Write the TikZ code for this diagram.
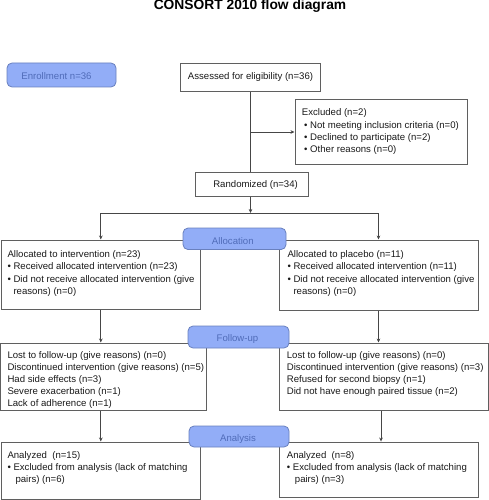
\documentclass[tikz,border=0pt]{standalone}
\usepackage{fontspec}
\setmainfont{Liberation Sans}
\usetikzlibrary{arrows.meta}
\definecolor{boxgray}{RGB}{95,95,95}
\definecolor{linegray}{RGB}{70,70,70}
\definecolor{lblfill}{RGB}{146,173,247}
\definecolor{lbldraw}{RGB}{105,128,190}
\definecolor{lbltext}{RGB}{80,108,185}
\definecolor{txtcol}{RGB}{25,25,25}
\newcommand\lns[1]{\begin{tabular}[t]{@{}l@{}}#1\end{tabular}}
\newcommand\hang{\phantom{• }}
\begin{document}
\begin{tikzpicture}[x=1pt,y=-1pt,
  box/.style={draw=boxgray, line width=1pt, rectangle, inner sep=0pt},
  lbl/.style={draw=lbldraw, fill=lblfill, line width=0.8pt, rounded corners=5pt, inner sep=0pt, text=lbltext},
  txt/.style={inner sep=0pt, text=txtcol, font=\fontsize{9.6}{12.1}\selectfont},
  ltxt/.style={inner sep=0pt, text=lbltext, font=\fontsize{9.6}{12.1}\selectfont},
  conn/.style={draw=linegray, line width=0.8pt},
  arr/.style={conn, -{Stealth[length=4pt,width=3.6pt]}}]
\useasboundingbox (0,0) rectangle (489,500);

\node[anchor=base, inner sep=0pt, font=\bfseries\fontsize{13.8}{16}\selectfont] (title) at (250,9.8) {CONSORT 2010 flow diagram};

% boxes
\node[box, minimum width=140pt, minimum height=28pt] (assess) at (250,78) {};
\node[box, minimum width=172pt, minimum height=64pt] (excl) at (381,132) {};
\node[box, minimum width=113pt, minimum height=24pt] (rand) at (251.5,184) {};
\node[box, minimum width=199pt, minimum height=69pt] (lalloc) at (100.8,274.5) {};
\node[box, minimum width=199pt, minimum height=70pt] (ralloc) at (378.5,275) {};
\node[box, minimum width=206pt, minimum height=67pt] (lfu) at (103.8,376.5) {};
\node[box, minimum width=209pt, minimum height=67pt] (rfu) at (383.5,376.5) {};
\node[box, minimum width=199pt, minimum height=57pt] (lan) at (100.8,470.5) {};
\node[box, minimum width=199pt, minimum height=55.5pt] (ran) at (378.5,469.8) {};

% texts
\node[txt, anchor=base] (assessT) at (250.5,80) {Assessed for eligibility (n=36)};
\node[txt, anchor=base] (randT) at (255.6,187) {Randomized (n=34)};
\node[txt, anchor=base west] (exclT) at (301.7,116) {\lns{Excluded (n=2)\\
\hspace*{2.3pt}• Not meeting inclusion criteria (n=0)\\
\hspace*{2.3pt}• Declined to participate (n=2)\\
\hspace*{2.3pt}• Other reasons (n=0)}};
\node[txt, anchor=base west] (lallocT) at (7.3,257.3) {\lns{Allocated to intervention (n=23)\\[0.3pt]
• Received allocated intervention (n=23)\\[0.3pt]
• Did not receive allocated intervention (give\\[0.3pt]
\hang reasons) (n=0)}};
\node[txt, anchor=base west] (rallocT) at (287.3,257.3) {\lns{Allocated to placebo (n=11)\\[0.3pt]
• Received allocated intervention (n=11)\\[0.3pt]
• Did not receive allocated intervention (give\\[0.3pt]
\hang reasons) (n=0)}};
\node[txt, anchor=base west] (lfuT) at (7.3,358.4) {\lns{Lost to follow-up (give reasons) (n=0)\\
Discontinued intervention (give reasons) (n=5)\\
Had side effects (n=3)\\
Severe exacerbation (n=1)\\
Lack of adherence (n=1)}};
\node[txt, anchor=base west] (rfuT) at (286.7,358.4) {\lns{Lost to follow-up (give reasons) (n=0)\\
Discontinued intervention (give reasons) (n=3)\\
Refused for second biopsy (n=1)\\
Did not have enough paired tissue (n=2)}};
\node[txt, anchor=base west] (lanT) at (7.3,458.5) {\lns{Analyzed\ \ (n=15)\\
• Excluded from analysis (lack of matching\\
\hang\hspace*{2pt}pairs) (n=6)}};
\node[txt, anchor=base west] (ranT) at (286.7,458.5) {\lns{Analyzed\ \ (n=8)\\
• Excluded from analysis (lack of matching\\
\hang\hspace*{2pt}pairs) (n=3)}};

% connectors
\coordinate (split) at (250.5,213);
\coordinate (splitL) at (lalloc.north |- split);
\coordinate (splitR) at (ralloc.north |- split);
\draw[conn] (assess.south -| split) -- (rand.north -| split);
\draw[arr] (split |- excl.west) -- (excl.west);
\draw[arr] (rand.south -| split) -- (split);
\draw[conn] (splitL) -- (splitR);
\draw[arr] (splitL) -- (lalloc.north);
\draw[arr] (splitR) -- (ralloc.north);
\draw[arr] (lalloc.south) -- (lalloc.south |- lfu.north);
\draw[arr] (ralloc.south) -- (ralloc.south |- rfu.north);
\draw[arr] (lalloc.south |- lfu.south) -- (lalloc.south |- lan.north);
\draw[arr] ([xshift=-2.5pt]rfu.south) -- ([xshift=-2.5pt]rfu.south |- ran.north);

% stage labels
\node[lbl, minimum width=109pt, minimum height=24pt] (enrol) at (61.5,75) {};
\node[ltxt, anchor=base] (enrolT) at (56.5,79.5) {Enrollment n=36};
\node[lbl, minimum width=103pt, minimum height=21.5pt] (alloc) at (234.5,238.8) {};
\node[ltxt, anchor=base] (allocT) at (232.8,244) {Allocation};
\node[lbl, minimum width=101pt, minimum height=22pt] (fu) at (238.5,337) {};
\node[ltxt, anchor=base] (fuT) at (237.5,341) {Follow-up};
\node[lbl, minimum width=100pt, minimum height=21pt] (an) at (239,436.5) {};
\node[ltxt, anchor=base] (anT) at (238,441) {Analysis};
\end{tikzpicture}
\end{document}
